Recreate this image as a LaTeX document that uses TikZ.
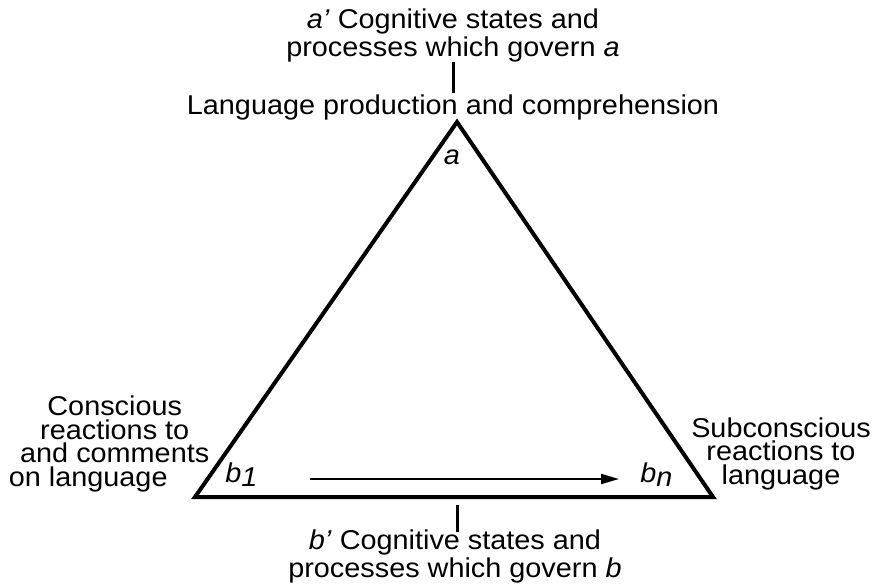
\documentclass[tikz,border=0pt]{standalone}
\usepackage{fontspec}
\setmainfont{Liberation Sans}[FakeStretch=1.06]
\usetikzlibrary{arrows.meta}
\tikzset{
  lbl/.style={font=\fontsize{13.6}{11.75}\selectfont, inner sep=0pt, align=center},
  side/.style={line width=2pt, line join=miter},
  tick/.style={line width=1.5pt},
}
\newcommand{\sub}[2]{\textit{#1}\raisebox{-0.3ex}{\textit{#2}}}
\begin{document}
\begin{tikzpicture}[x=0.5pt,y=-0.5pt]
\useasboundingbox (0,0) rectangle (877,584);
% corners of the triangle
\coordinate (A) at (457,122);
\coordinate (B1) at (195,497);
\coordinate (Bn) at (713,497);
\draw[side] (A) -- (B1) -- (Bn) -- cycle;
% top (base = last line)
\node[lbl,anchor=base] (aprime) at (453,56) {\textit{a’} Cognitive states and\\processes which govern \textit{a}};
\node[lbl,anchor=base] (lpc) at (453,114) {Language production and comprehension};
\coordinate (toptick) at (453,62);
\coordinate (toptickend) at (453,93);
\draw[tick] (toptick) -- (toptickend);
\node[lbl,anchor=base] (a) at (452,164) {\textit{a}};
% corners
\node[lbl,anchor=base west] (b1) at (225,482) {\sub{b}{1}};
\node[lbl,anchor=base west] (bn) at (640,482) {\sub{b}{n}};
\coordinate (arrowtail) at (310,479);
\coordinate (arrowtip) at (619,479);
\draw[line width=1pt,-{Triangle[length=9pt,width=5pt]}] (arrowtail) -- (arrowtip);
\node[lbl,anchor=base east] (left) at (221,486) {Conscious\\reactions to\hspace*{4pt}\\and comments\hspace*{6.5pt}\\on language\hspace*{26.5pt}};
\node[lbl,anchor=base] (right) at (781,484) {Subconscious\\reactions to\\language};
% bottom
\coordinate (basetick) at (457,505);
\coordinate (basetickend) at (457,532);
\draw[tick] (basetick) -- (basetickend);
\node[lbl,anchor=base] (bprime) at (455,577) {\textit{b’} Cognitive states and\\processes which govern \textit{b}};
\end{tikzpicture}
\end{document}
